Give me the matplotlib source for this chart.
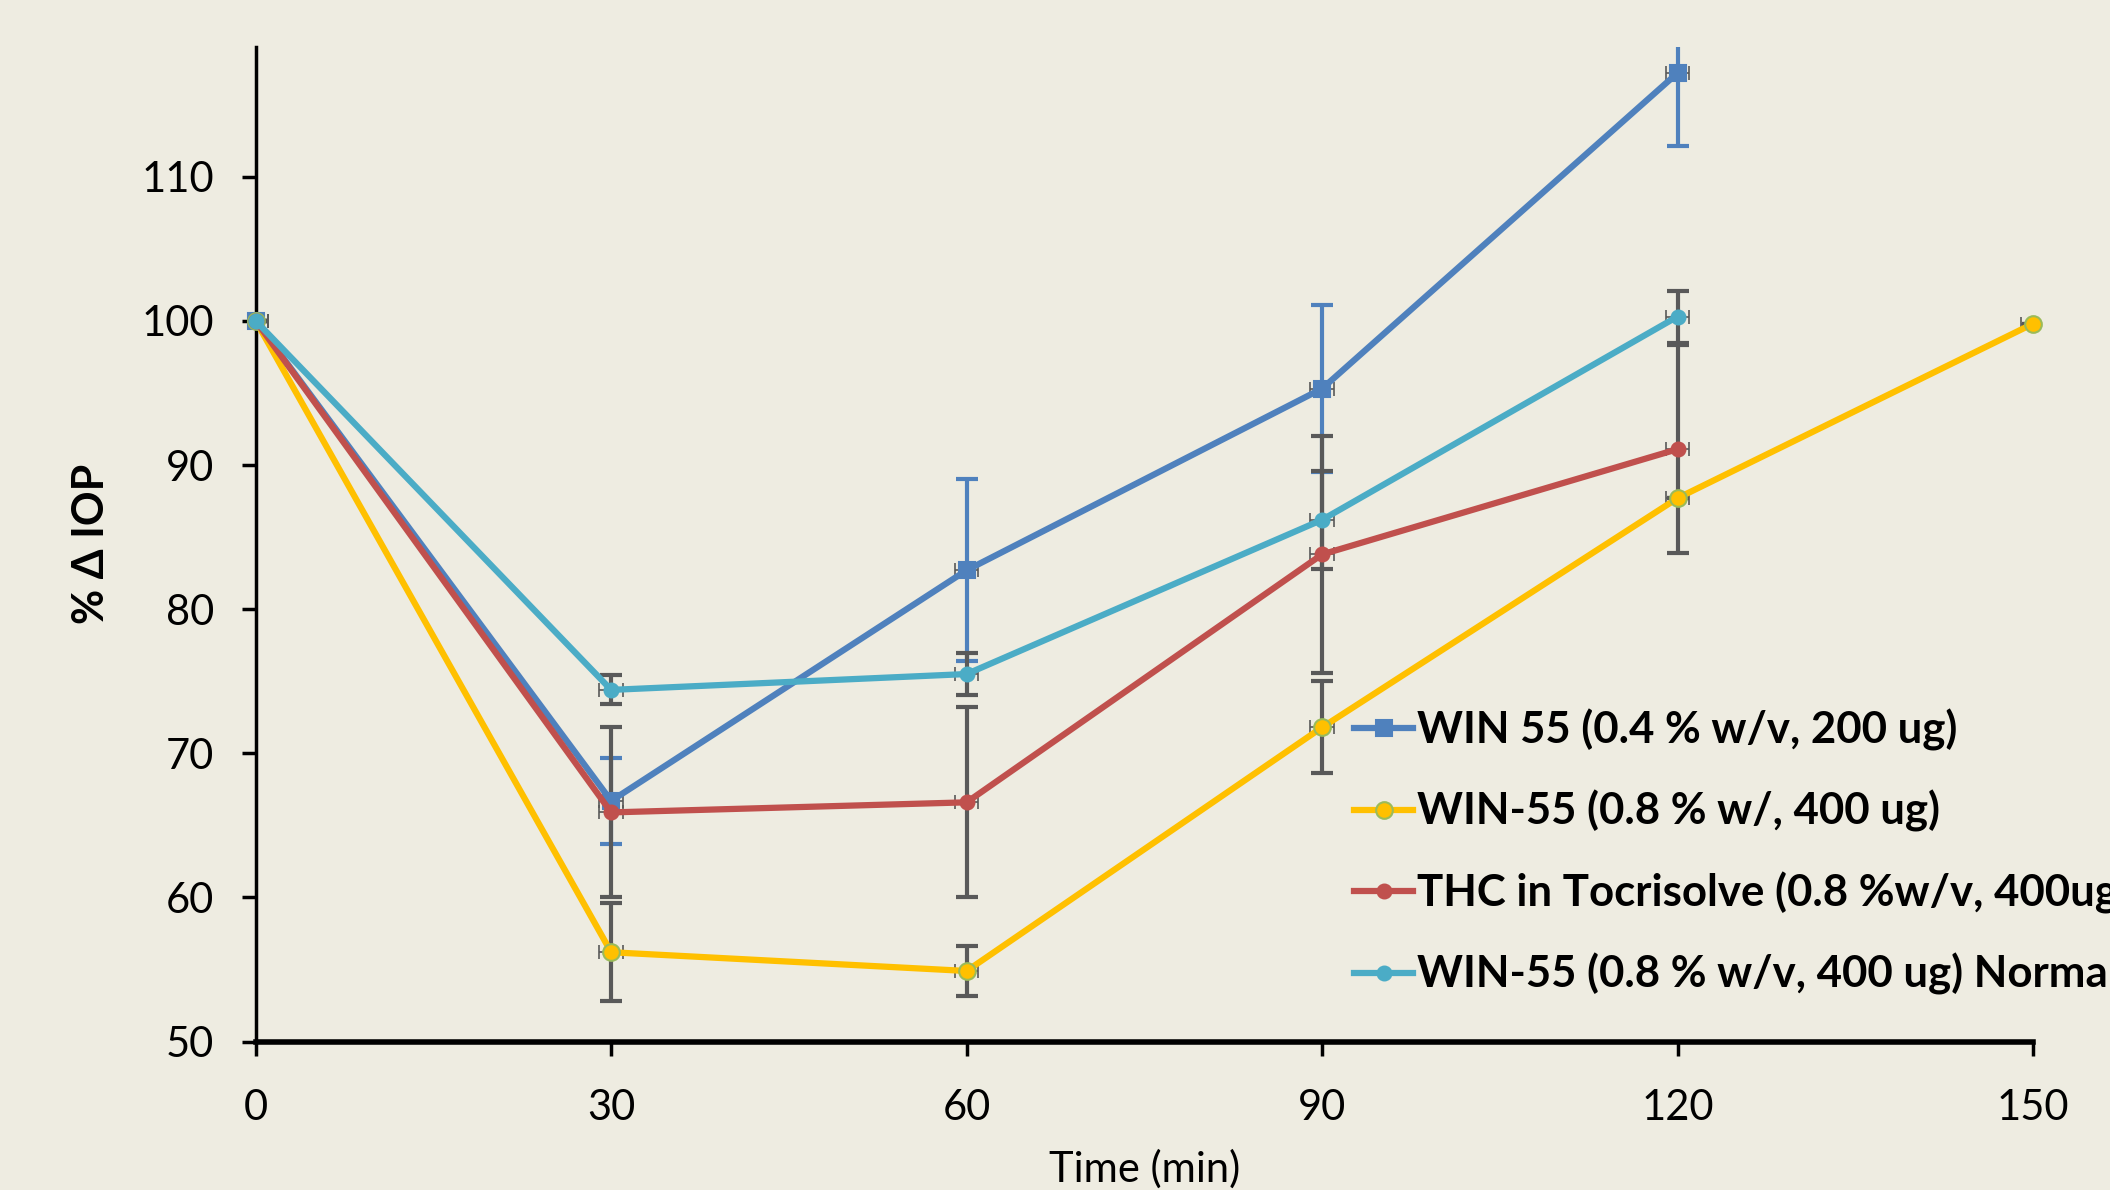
import matplotlib
matplotlib.use("Agg")
import matplotlib.pyplot as plt

plt.rcParams["font.family"] = ["Lato", "DejaVu Sans"]

# data (% change in IOP vs time)
time = [0, 30, 60, 90, 120]
time_yel = [0, 30, 60, 90, 120, 150]
win04 = [100, 66.7, 82.7, 95.3, 117.2]
win04_err = [0, 3.0, 6.3, 5.8, 5.1]
win08 = [100, 56.2, 54.9, 71.8, 87.7, 99.8]
win08_err = [0, 3.4, 1.75, 3.2, 0, 0]
thc = [100, 65.9, 66.6, 83.8, 91.1]
thc_err = [0, 5.9, 6.6, 8.2, 7.2]
win08n = [100, 74.4, 75.5, 86.2, 100.3]
win08n_err = [0, 1.0, 1.45, 3.4, 1.8]
time_err = 1.0

labels = ["WIN 55 (0.4 % w/v, 200 ug)",
          "WIN-55 (0.8 % w/, 400 ug)",
          "THC in Tocrisolve (0.8 %w/v, 400ug)",
          "WIN-55 (0.8 % w/v, 400 ug) Normal"]

BG = "#EEECE1"
GREY = "#595959"

fig = plt.figure(figsize=(21.1, 11.9), dpi=100, facecolor=BG)
ax = fig.add_axes([0.1212, 0.1247, 0.8423, 0.8358], facecolor=BG)

series = [
    (time, win04, win04_err, "#4F81BD", "s", 12, "#4F81BD", "#4F81BD"),
    (time_yel, win08, win08_err, "#FFC000", "o", 12, "#9BBB59", GREY),
    (time, thc, thc_err, "#C0504D", "o", 10, "#C0504D", GREY),
    (time, win08n, win08n_err, "#4BACC6", "o", 10, "#4BACC6", GREY),
]

# error bars first (vertical thick, horizontal thin)
for x, y, e, col, mk, ms, mec, ecol in series:
    ax.errorbar(x, y, yerr=e, fmt="none", ecolor=ecol, elinewidth=3,
                capsize=8, capthick=3, zorder=2)
    ax.errorbar(x, y, xerr=time_err, fmt="none", ecolor=GREY, elinewidth=1.2,
                capsize=5, capthick=1.2, zorder=2)

for (x, y, e, col, mk, ms, mec, ecol), lab in zip(series, labels):
    ax.plot(x, y, color=col, lw=4.5, marker=mk, ms=ms, mfc=col, mec=mec,
            mew=1.5, label=lab, zorder=3, clip_on=False)

ax.set_xlim(0, 150)
ax.set_ylim(50, 119)
ax.set_xticks([0, 30, 60, 90, 120, 150])
ax.set_yticks([50, 60, 70, 80, 90, 100, 110])
ax.tick_params(axis="both", direction="out", length=10, width=2.5,
               labelsize=30, pad=20)
ax.tick_params(axis="x", pad=24)
for s in ["top", "right"]:
    ax.spines[s].set_visible(False)
ax.spines["left"].set_linewidth(2.5)
ax.spines["bottom"].set_linewidth(4)

ax.set_ylabel("% Δ IOP", fontsize=31, fontweight="bold", labelpad=22)
ax.set_xlabel("Time (min)", fontsize=30, labelpad=16)

# legend runs past the right edge, as in the original figure
fig.legend(loc="upper left", bbox_to_anchor=(0.6417, 0.4045), frameon=False,
           prop={"size": 31.5, "weight": "bold"}, handlelength=1.35,
           handletextpad=0.1, labelspacing=0.9, borderpad=0, borderaxespad=0)

fig.savefig("out.png", dpi=100, facecolor=BG)
